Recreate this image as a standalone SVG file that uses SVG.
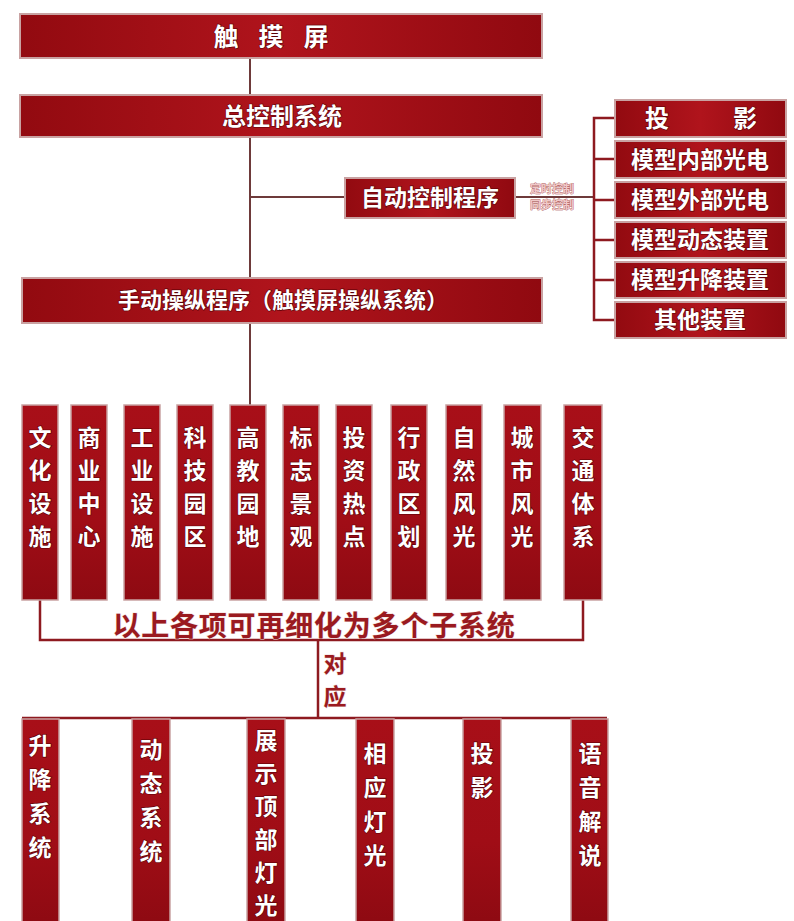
<svg xmlns="http://www.w3.org/2000/svg" width="794" height="921" viewBox="0 0 794 921">
<defs>
<linearGradient id="g" x1="0" y1="0" x2="1" y2="0">
<stop offset="0" stop-color="#920a10"/>
<stop offset="0.5" stop-color="#b0141c"/>
<stop offset="1" stop-color="#900910"/>
</linearGradient>
<linearGradient id="gv" x1="0" y1="0" x2="0" y2="1">
<stop offset="0" stop-color="#a80f18"/>
<stop offset="0.6" stop-color="#a00d16"/>
<stop offset="1" stop-color="#8e0a12"/>
</linearGradient>
</defs>
<style>
.box{fill:url(#g);stroke:#c9a2a2;stroke-width:2}
.col{fill:url(#gv);stroke:#c9a2a2;stroke-width:1.5}
.t{font-family:"Noto Sans CJK SC","Noto Sans",sans-serif;font-weight:bold;fill:#ffffff;stroke:#5a0006;stroke-width:1.2;paint-order:stroke;text-anchor:middle}
.red{font-family:"Noto Sans CJK SC","Noto Sans",sans-serif;font-weight:bold;fill:#9a1a20;stroke:#f2dede;stroke-width:1;paint-order:stroke;text-anchor:middle}
.small{font-family:"Noto Sans CJK SC","Noto Sans",sans-serif;font-weight:bold;fill:#f0c8c8;stroke:#8e1a20;stroke-width:0.5;paint-order:stroke;text-anchor:middle}
.ln{stroke:#6e3a3a;stroke-width:2;fill:none}
.rl{stroke:#8e1a20;stroke-width:2.5;fill:none}
</style>
<g id="connectors">
<line class="ln" x1="250" y1="58" x2="250" y2="95"/>
<line class="ln" x1="250" y1="137" x2="250" y2="278"/>
<line class="ln" x1="250" y1="197" x2="345" y2="197"/>
<line class="ln" x1="515" y1="197" x2="594" y2="197"/>
<path class="rl" d="M615,118 H594 V320 H615 M594,159 H615 M594,200 H615 M594,240 H615 M594,280 H615"/>
<line class="ln" x1="250" y1="323" x2="250" y2="405"/>
<path class="rl" d="M40,600 V640 H583 V600"/>
<line class="rl" x1="318" y1="640" x2="318" y2="718"/>
<line class="rl" x1="22" y1="718" x2="607" y2="718"/>
</g>
<g id="n-touch"><rect class="box" x="20" y="14" width="522" height="44"/><text class="t" y="46" font-size="25"><tspan x="226">触</tspan><tspan x="271">摸</tspan><tspan x="316">屏</tspan></text></g>
<g id="n-master"><rect class="box" x="20" y="95" width="522" height="42"/><text class="t" x="282" y="125" font-size="24">总控制系统</text></g>
<g id="n-auto"><rect class="box" x="345" y="178" width="170" height="40"/><text class="t" x="430" y="206" font-size="23">自动控制程序</text></g>
<g id="n-autolabel"><text class="small" x="552" y="193" font-size="11">定时控制</text><text class="small" x="552" y="209" font-size="11">同步控制</text></g>
<g id="n-r1"><rect class="box" x="615" y="100" width="171" height="37"/><text class="t" y="127" font-size="24"><tspan x="657">投</tspan><tspan x="745">影</tspan></text></g>
<g id="n-r2"><rect class="box" x="615" y="141" width="171" height="37"/><text class="t" x="700" y="168" font-size="23">模型内部光电</text></g>
<g id="n-r3"><rect class="box" x="615" y="182" width="171" height="36"/><text class="t" x="700" y="208" font-size="23">模型外部光电</text></g>
<g id="n-r4"><rect class="box" x="615" y="222" width="171" height="36"/><text class="t" x="700" y="248" font-size="23">模型动态装置</text></g>
<g id="n-r5"><rect class="box" x="615" y="262" width="171" height="36"/><text class="t" x="700" y="288" font-size="23">模型升降装置</text></g>
<g id="n-r6"><rect class="box" x="615" y="302" width="171" height="36"/><text class="t" x="700" y="328" font-size="23">其他装置</text></g>
<g id="n-manual"><rect class="box" x="22" y="278" width="520" height="45"/><text class="t" x="283" y="308" font-size="22">手动操纵程序（触摸屏操纵系统）</text></g>
<g id="c1"><rect class="col" x="22" y="405" width="36" height="195"/><text class="t" x="40" y="446" font-size="23"><tspan x="40">文</tspan><tspan x="40" dy="33">化</tspan><tspan x="40" dy="33">设</tspan><tspan x="40" dy="33">施</tspan></text></g>
<g id="c2"><rect class="col" x="71" y="405" width="36" height="195"/><text class="t" x="89" y="446" font-size="23"><tspan x="89">商</tspan><tspan x="89" dy="33">业</tspan><tspan x="89" dy="33">中</tspan><tspan x="89" dy="33">心</tspan></text></g>
<g id="c3"><rect class="col" x="124" y="405" width="36" height="195"/><text class="t" x="142" y="446" font-size="23"><tspan x="142">工</tspan><tspan x="142" dy="33">业</tspan><tspan x="142" dy="33">设</tspan><tspan x="142" dy="33">施</tspan></text></g>
<g id="c4"><rect class="col" x="177" y="405" width="36" height="195"/><text class="t" x="195" y="446" font-size="23"><tspan x="195">科</tspan><tspan x="195" dy="33">技</tspan><tspan x="195" dy="33">园</tspan><tspan x="195" dy="33">区</tspan></text></g>
<g id="c5"><rect class="col" x="230" y="405" width="36" height="195"/><text class="t" x="248" y="446" font-size="23"><tspan x="248">高</tspan><tspan x="248" dy="33">教</tspan><tspan x="248" dy="33">园</tspan><tspan x="248" dy="33">地</tspan></text></g>
<g id="c6"><rect class="col" x="283" y="405" width="36" height="195"/><text class="t" x="301" y="446" font-size="23"><tspan x="301">标</tspan><tspan x="301" dy="33">志</tspan><tspan x="301" dy="33">景</tspan><tspan x="301" dy="33">观</tspan></text></g>
<g id="c7"><rect class="col" x="336" y="405" width="36" height="195"/><text class="t" x="354" y="446" font-size="23"><tspan x="354">投</tspan><tspan x="354" dy="33">资</tspan><tspan x="354" dy="33">热</tspan><tspan x="354" dy="33">点</tspan></text></g>
<g id="c8"><rect class="col" x="391" y="405" width="36" height="195"/><text class="t" x="409" y="446" font-size="23"><tspan x="409">行</tspan><tspan x="409" dy="33">政</tspan><tspan x="409" dy="33">区</tspan><tspan x="409" dy="33">划</tspan></text></g>
<g id="c9"><rect class="col" x="446" y="405" width="36" height="195"/><text class="t" x="464" y="446" font-size="23"><tspan x="464">自</tspan><tspan x="464" dy="33">然</tspan><tspan x="464" dy="33">风</tspan><tspan x="464" dy="33">光</tspan></text></g>
<g id="c10"><rect class="col" x="504" y="405" width="37" height="195"/><text class="t" x="522" y="446" font-size="23"><tspan x="522">城</tspan><tspan x="522" dy="33">市</tspan><tspan x="522" dy="33">风</tspan><tspan x="522" dy="33">光</tspan></text></g>
<g id="c11"><rect class="col" x="564" y="405" width="38" height="195"/><text class="t" x="583" y="446" font-size="23"><tspan x="583">交</tspan><tspan x="583" dy="33">通</tspan><tspan x="583" dy="33">体</tspan><tspan x="583" dy="33">系</tspan></text></g>
<g id="n-note"><text class="red" x="314" y="636" font-size="28" letter-spacing="0.8">以上各项可再细化为多个子系统</text></g>
<g id="n-dui"><text class="red" x="335" y="672" font-size="23"><tspan x="335">对</tspan><tspan x="335" dy="33">应</tspan></text></g>
<g id="b1"><rect class="col" x="22" y="719" width="37" height="204"/><text class="t" x="40" y="754" font-size="23"><tspan x="40">升</tspan><tspan x="40" dy="34">降</tspan><tspan x="40" dy="34">系</tspan><tspan x="40" dy="34">统</tspan></text></g>
<g id="b2"><rect class="col" x="132" y="719" width="38" height="204"/><text class="t" x="151" y="758" font-size="23"><tspan x="151">动</tspan><tspan x="151" dy="34">态</tspan><tspan x="151" dy="34">系</tspan><tspan x="151" dy="34">统</tspan></text></g>
<g id="b3"><rect class="col" x="247" y="719" width="38" height="204"/><text class="t" x="266" y="749" font-size="23"><tspan x="266">展</tspan><tspan x="266" dy="33">示</tspan><tspan x="266" dy="33">顶</tspan><tspan x="266" dy="33">部</tspan><tspan x="266" dy="33">灯</tspan><tspan x="266" dy="33">光</tspan></text></g>
<g id="b4"><rect class="col" x="356" y="719" width="38" height="204"/><text class="t" x="375" y="762" font-size="23"><tspan x="375">相</tspan><tspan x="375" dy="34">应</tspan><tspan x="375" dy="34">灯</tspan><tspan x="375" dy="34">光</tspan></text></g>
<g id="b5"><rect class="col" x="463" y="719" width="38" height="204"/><text class="t" x="482" y="762" font-size="23"><tspan x="482">投</tspan><tspan x="482" dy="34">影</tspan></text></g>
<g id="b6"><rect class="col" x="571" y="719" width="37" height="204"/><text class="t" x="590" y="762" font-size="23"><tspan x="590">语</tspan><tspan x="590" dy="34">音</tspan><tspan x="590" dy="34">解</tspan><tspan x="590" dy="34">说</tspan></text></g>
</svg>
